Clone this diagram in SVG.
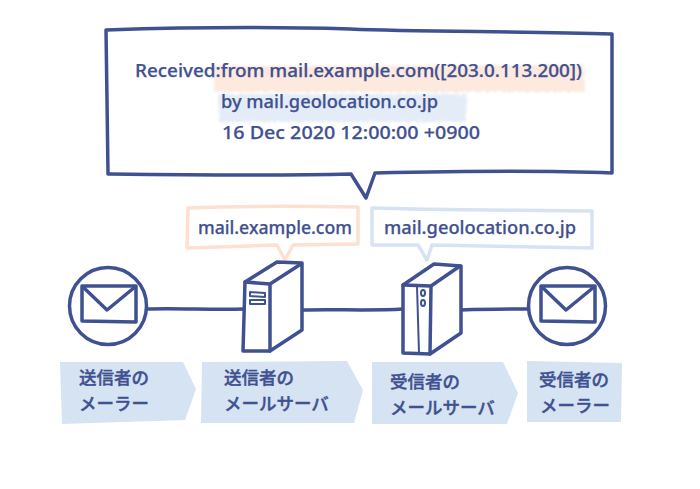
<svg xmlns="http://www.w3.org/2000/svg" width="700" height="489" viewBox="0 0 700 489">
<style>
.ink{fill:none;stroke:#3f5190;stroke-width:3.5;stroke-linejoin:round;stroke-linecap:round}
.thin{stroke-width:2}
.paper{fill:#fff}
.t{font-family:"Noto Sans","Noto Sans CJK JP",sans-serif;font-weight:500;fill:#3f5190;stroke:#3f5190;stroke-width:.25}
.m{font-size:18.5px}
.j{font-family:"Noto Sans CJK JP","Noto Sans",sans-serif;font-weight:500;font-size:17.5px;fill:#3f5190;stroke:#3f5190;stroke-width:.4}
.tag{fill:#d6e3f3}
.or{fill:#fff;stroke:#fde0cf;stroke-width:3.5;stroke-linejoin:round}
.bl{fill:#fff;stroke:#d6e3f3;stroke-width:3.5;stroke-linejoin:round}
</style>
<defs>
<filter id="rough" x="-5%" y="-25%" width="110%" height="150%">
<feTurbulence type="fractalNoise" baseFrequency="0.35" numOctaves="2" seed="4" result="n"/>
<feDisplacementMap in="SourceGraphic" in2="n" scale="7" result="d"/>
<feGaussianBlur in="d" stdDeviation="0.9"/>
</filter>
<g id="env">
<circle cx="0" cy="0" r="38.5" class="ink paper"/>
<path class="ink" d="M-26-20L28-20 28 16-26 15Z"/>
<path class="ink" d="M-25-19L-1 4 27-19"/>
</g>
</defs>
<g id="connectors">
<path class="ink" d="M146 309C180 308 210 310 244 309"/>
<path class="ink" d="M302 310C335 309 370 311 403 309"/>
<path class="ink" d="M461 310C490 309 510 309 528 309"/>
</g>
<g id="callout">
<path class="ink paper" d="M106 30C200 27 280 27 350 29C420 32 520 31 612 34L612 100 612 173C540 170 460 171 375 173L366 198 351 174C270 176 190 175 108 174L107 100Z"/>
<path d="M213 66L584 65 585 92 214 92Z" fill="#fde9de" filter="url(#rough)"/>
<path d="M218 94L467 94 466 122 219 122Z" fill="#e4edf7" filter="url(#rough)"/>
<text class="t m" x="135" y="76.500" textLength="447" lengthAdjust="spacingAndGlyphs">Received:from mail.example.com([203.0.113.200])</text>
<text class="t m" x="221" y="107.500" textLength="217" lengthAdjust="spacingAndGlyphs">by mail.geolocation.co.jp</text>
<text class="t m" x="222" y="139" textLength="258" lengthAdjust="spacingAndGlyphs">16 Dec 2020 12:00:00 +0900</text>
</g>
<g id="label-example">
<path class="or" d="M188 208C240 206 300 206 358 207L358 244 293 245 285 260 277 245 187 248Z"/>
<text class="t m" x="198" y="234" textLength="154" lengthAdjust="spacingAndGlyphs">mail.example.com</text>
</g>
<g id="label-geolocation">
<path class="bl" d="M372 208C440 210 520 210 592 211L592 248 432 245 427 260 418 245 372 245Z"/>
<text class="t m" x="384" y="234" textLength="192" lengthAdjust="spacingAndGlyphs">mail.geolocation.co.jp</text>
</g>
<g id="sender-mailer">
<use href="#env" x="108" y="306"/>
<path class="tag" d="M60 362L183 362 196 389 185 420 62 424Z"/>
<text class="j" x="79" y="384">送信者の</text>
<text class="j" x="79" y="410">メーラー</text>
</g>
<g id="sender-server">
<path class="ink paper" d="M245 282L277 262 302 263 302 330 270 351 243 351Z"/>
<path class="ink" d="M245 282L270 284 270 351M270 284L301 264"/>
<path class="ink thin" d="M250 292L265 293 265 297 250 296ZM250 300L265 300 265 304 250 304Z"/>
<path class="tag" d="M202 362L347 361 363 390 354 423 201 423Z"/>
<text class="j" x="224" y="384">送信者の</text>
<text class="j" x="224" y="410">メールサーバ</text>
</g>
<g id="receiver-server">
<path class="ink paper" d="M403 285L434 264 461 266 461 333 430 354 403 353Z"/>
<path class="ink" d="M403 285L431 286 430 354M431 286L460 266"/>
<path class="ink thin" d="M417 286L419 353"/>
<ellipse class="ink thin" cx="423" cy="293" rx="2" ry="3"/>
<ellipse class="ink thin" cx="423" cy="303" rx="2" ry="3"/>
<path class="tag" d="M372 362L503 362 518 393 507 424 372 424Z"/>
<text class="j" x="390" y="388">受信者の</text>
<text class="j" x="390" y="414">メールサーバ</text>
</g>
<g id="receiver-mailer">
<use href="#env" x="567" y="306"/>
<path class="tag" d="M527 361L622 363 621 422 527 422Z"/>
<text class="j" x="539" y="386">受信者の</text>
<text class="j" x="540" y="412">メーラー</text>
</g>
</svg>
